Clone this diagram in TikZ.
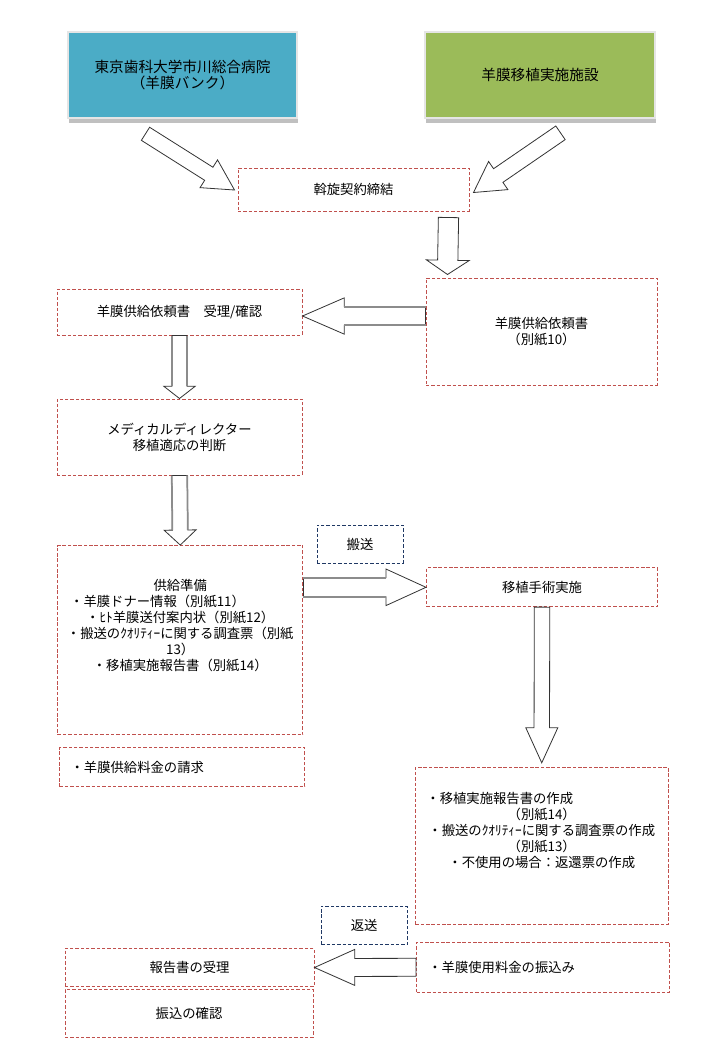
\documentclass[tikz,border=0pt]{standalone}
\usepackage{fontspec}
\setmainfont{Noto Sans CJK JP}
\usepackage{tikz}
\usetikzlibrary{calc,shadows}

\definecolor{bankblue}{RGB}{75,172,198}
\definecolor{sitegreen}{RGB}{155,187,89}
\definecolor{boxred}{RGB}{192,80,77}
\definecolor{boxnavy}{RGB}{31,56,100}

\tikzset{
  topbox/.style={draw=black!10, line width=1.2pt, align=center,
    font=\fontsize{11}{12.5}\selectfont,
    drop shadow={shadow xshift=1pt, shadow yshift=-3.5pt, fill=black!45, opacity=0.55}},
  redbox/.style={draw=boxred, line width=0.75pt, dash pattern=on 2.6pt off 1.4pt,
    align=center, font=\fontsize{10}{12}\selectfont},
  navybox/.style={redbox, draw=boxnavy},
  boxtext/.style={inner sep=0pt, align=center, anchor=north, font=\fontsize{10}{12}\selectfont},
  blockarr/.style={draw=black!80, fill=white, line width=0.6pt, line join=miter},
  grayedge/.style={draw=black!45, line width=1.3pt},
}

% block arrow: [shaft sides], tail, tip, shaft half width, head half width, head length
\newcommand{\blockarrow}[6][draw=none]{%
  \coordinate (ah) at ($(#3)!#6!(#2)$);
  \draw[blockarr] ($(#2)!#4!90:(#3)$) -- ($(ah)!#4!-90:(#2)$) -- ($(ah)!#5!-90:(#2)$)
    -- (#3) -- ($(ah)!#5!90:(#2)$) -- ($(ah)!#4!90:(#2)$) -- ($(#2)!#4!-90:(#3)$) -- cycle;
  \path[#1] ($(#2)!#4!90:(#3)$) -- ($(ah)!#4!-90:(#2)$)
    ($(#2)!#4!-90:(#3)$) -- ($(ah)!#4!90:(#2)$);
}

\begin{document}
\begin{tikzpicture}[x=0.75pt,y=-0.75pt]
  \useasboundingbox (0,0) rectangle (720,1058);

  % top row
  \node[topbox, fill=bankblue, minimum width=171.75pt, minimum height=64.5pt] (bank) at (182.5,75)
    {東京歯科大学市川総合病院\\（羊膜バンク）};
  \node[topbox, fill=sitegreen, minimum width=172.5pt, minimum height=64.5pt] (site) at (540,75)
    {羊膜移植実施施設};
  \node[redbox, minimum width=173.25pt, minimum height=32.25pt] (deal) at (353.5,189.5) {斡旋契約締結};

  % request
  \node[redbox, minimum width=173.25pt, minimum height=80.25pt] (request) at (541.5,331.5)
    {羊膜供給依頼書\\（別紙10）};
  \node[redbox, minimum width=183.75pt, minimum height=34.5pt] (accept) at (179.5,312)
    {羊膜供給依頼書　受理/確認};
  \node[redbox, minimum width=183.75pt, minimum height=57pt] (judge) at (179.5,437)
    {メディカルディレクター\\移植適応の判断};

  % supply
  \node[redbox, minimum width=184.1pt, minimum height=142.1pt] (prep) at (180.25,640.25) {};
  \node[boxtext] (preptext) at ($(prep.north)+(0,33.5)$)
    {供給準備\\
     ・羊膜ドナー情報（別紙11）\rule{3.4em}{0pt}\\
     ・ﾋﾄ羊膜送付案内状（別紙12）\\
     ・搬送のｸｵﾘﾃｨｰに関する調査票（別紙\\
     13）\\
     ・移植実施報告書（別紙14）};
  \node[navybox, minimum width=64.5pt, minimum height=28.5pt] (transport) at (360,544) {搬送};
  \node[redbox, minimum width=173.25pt, minimum height=29pt] (surgery) at (542,587.3) {移植手術実施};
  \node[redbox, minimum width=184pt, minimum height=29.25pt, inner xsep=8.25pt,
    text width=167.5pt, align=left] (bill) at (182.3,767.2) {・羊膜供給料金の請求};

  % report
  \node[redbox, minimum width=189.4pt, minimum height=117.75pt] (report) at (541.75,845.8) {};
  \node[boxtext] (reporttext) at ($(report.north)+(0,25.3)$)
    {・移植実施報告書の作成\rule{6.3em}{0pt}\\
     （別紙14）\\
     ・搬送のｸｵﾘﾃｨｰに関する調査票の作成\\
     （別紙13）\\
     ・不使用の場合：返還票の作成};
  \node[navybox, minimum width=64.5pt, minimum height=28.7pt] (return) at (364.2,925.2) {返送};
  \node[redbox, minimum width=189.75pt, minimum height=37.5pt, inner xsep=8.8pt,
    text width=172pt, align=left] (payment) at (543,967.3) {・羊膜使用料金の振込み};
  \node[redbox, minimum width=186.75pt, minimum height=28.8pt] (receipt) at (189.5,967.5) {報告書の受理};
  \node[redbox, minimum width=186pt, minimum height=36pt] (confirm) at (189,1013.3) {振込の確認};

  % arrows
  \coordinate (a1) at ($(bank.south)+(-37,15)$);
  \coordinate (a2) at ($(deal.west)+(-3,0.5)$);
  \blockarrow{a1}{a2}{5.8pt}{12.3pt}{22.8pt}
  \coordinate (b1) at ($(site.south)+(20.5,14)$);
  \coordinate (b2) at ($(deal.east)+(4,3)$);
  \blockarrow{b1}{b2}{6.2pt}{12.8pt}{22.5pt}
  \coordinate (c1) at ($(deal.south east)+(-21,6)$);
  \coordinate (c2) at ($(request.north west)+(22,-3)$);
  \blockarrow{c1}{c2}{7.6pt}{16pt}{10.7pt}
  \coordinate (d1) at ($(request.west)+(0,-15.5)$);
  \coordinate (d2) at ($(accept.east)+(0,4)$);
  \blockarrow[grayedge]{d1}{d2}{6.9pt}{13.6pt}{31.3pt}
  \blockarrow[grayedge]{accept.south}{judge.north}{5.6pt}{11.8pt}{9.2pt}
  \blockarrow[grayedge]{judge.south}{prep.north}{5.8pt}{12pt}{11.25pt}
  \coordinate (g1) at (prep.east |- surgery.west);
  \blockarrow[grayedge]{g1}{surgery.west}{7.1pt}{13.7pt}{30pt}
  \coordinate (h2) at ($(report.north)+(0,-4)$);
  \blockarrow{surgery.south}{h2}{5.8pt}{12pt}{26.3pt}
  \blockarrow{payment.west}{receipt.east}{6.75pt}{13.5pt}{30.2pt}
\end{tikzpicture}
\end{document}
